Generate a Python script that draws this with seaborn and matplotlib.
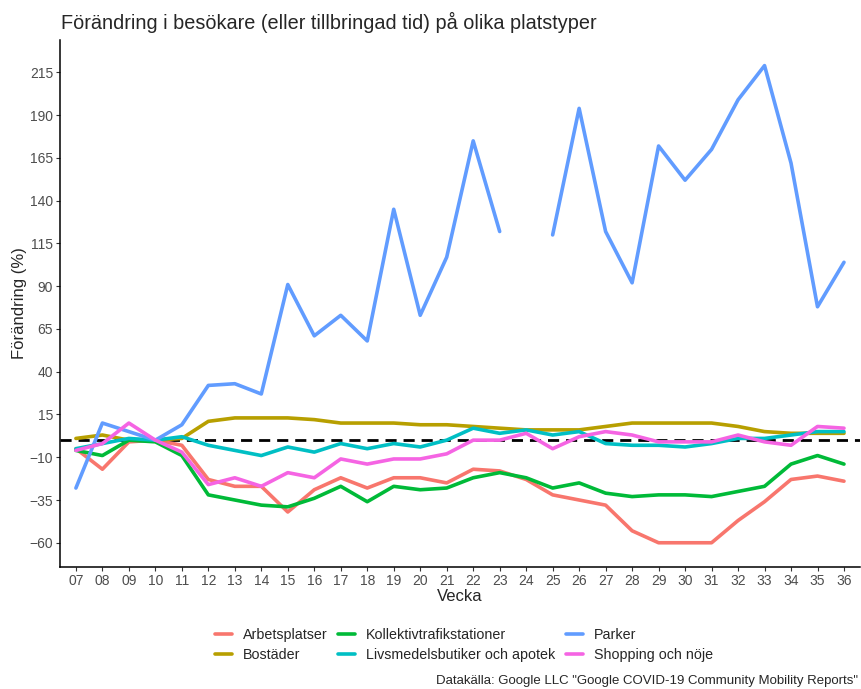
import numpy as np
import pandas as pd
import seaborn as sns
import matplotlib.pyplot as plt

# data (percent change per week)
weeks = [f"{w:02d}" for w in range(7, 37)]
arbetsplatser = [-5, -17, -1, 0, -3, -23, -27, -27, -42, -29, -22, -28, -22, -22,
                 -25, -17, -18, -23, -32, -35, -38, -53, -60, -60, -60, -47, -36, -23, -21, -24]
bostader = [1, 3, 0, 0, 1, 11, 13, 13, 13, 12, 10, 10, 10, 9,
            9, 8, 7, 6, 6, 6, 8, 10, 10, 10, 10, 8, 5, 4, 4, 4]
kollektiv = [-6, -9, 0, -1, -9, -32, -35, -38, -39, -34, -27, -36, -27, -29,
             -28, -22, -19, -22, -28, -25, -31, -33, -32, -32, -33, -30, -27, -14, -9, -14]
livsmedel = [-5, -2, 1, 0, 2, -3, -6, -9, -4, -7, -2, -5, -2, -4,
             0, 7, 4, 6, 3, 5, -2, -3, -3, -4, -2, 1, 1, 3, 5, 5]
parker = [-28, 10, 5, 0, 9, 32, 33, 27, 91, 61, 73, 58, 135, 73,
          107, 175, 122, np.nan, 120, 194, 122, 92, 172, 152, 170, 199, 219, 162, 78, 104]
shopping = [-6, -2, 10, 0, -7, -26, -22, -27, -19, -22, -11, -14, -11, -11,
            -8, 0, 0, 4, -5, 2, 5, 3, -1, -1, -1, 3, -1, -3, 8, 7]

series = {
    "Arbetsplatser": arbetsplatser,
    "Bostäder": bostader,
    "Kollektivtrafikstationer": kollektiv,
    "Livsmedelsbutiker och apotek": livsmedel,
    "Parker": parker,
    "Shopping och nöje": shopping,
}
colors = ["#F8766D", "#B79F00", "#00BA38", "#00BFC4", "#619CFF", "#F564E3"]

rows = []
for name, vals in series.items():
    seg = 0
    for w, v in zip(weeks, vals):
        if np.isnan(v):
            seg += 1  # break the line where a value is missing
            continue
        rows.append({"Vecka": w, "Förändring": v, "Typ": name, "seg": seg})
df = pd.DataFrame(rows)

sns.set_style("white")
plt.rcParams["font.family"] = ["Liberation Sans", "DejaVu Sans"]

fig = plt.figure(figsize=(8.61, 6.89), dpi=100)
ax = fig.add_axes([0.0697, 0.1775, 0.929, 0.7645])

ax.axhline(0, color="black", lw=2, ls=(0, (4, 2.5)), zorder=1)
sns.lineplot(data=df, x="Vecka", y="Förändring", hue="Typ", units="seg",
             estimator=None, palette=colors, lw=2.6, ax=ax, zorder=2)

ax.set_xlim(-0.6, len(weeks) - 0.4)
ax.set_ylim(-74, 234)
ax.set_yticks(np.arange(-60, 216, 25))
for s in ["top", "right"]:
    ax.spines[s].set_visible(False)
for s in ["left", "bottom"]:
    ax.spines[s].set_color("black")
    ax.spines[s].set_linewidth(1.1)
ax.tick_params(axis="both", length=3, width=0.8, color="#333333",
               labelcolor="#4D4D4D", labelsize=10, bottom=True, left=True, pad=2)
ax.set_xlabel("Vecka", fontsize=12, labelpad=1)
ax.set_ylabel("Förändring (%)", fontsize=12, labelpad=2)

fig.text(0.071, 0.967, "Förändring i besökare (eller tillbringad tid) på olika platstyper",
         fontsize=14.3, ha="left", va="center")

h, l = ax.get_legend_handles_labels()
ax.legend(h, l, loc="center", bbox_to_anchor=(0.505, -0.149), ncol=3, frameon=False,
          fontsize=10.3, handlelength=1.2, handletextpad=0.75, columnspacing=0.75,
          labelspacing=0.4)

fig.text(0.996, 0.011, 'Datakälla: Google LLC "Google COVID-19 Community Mobility Reports"',
         fontsize=9.5, ha="right", va="center")

fig.savefig("out.png", dpi=100)
